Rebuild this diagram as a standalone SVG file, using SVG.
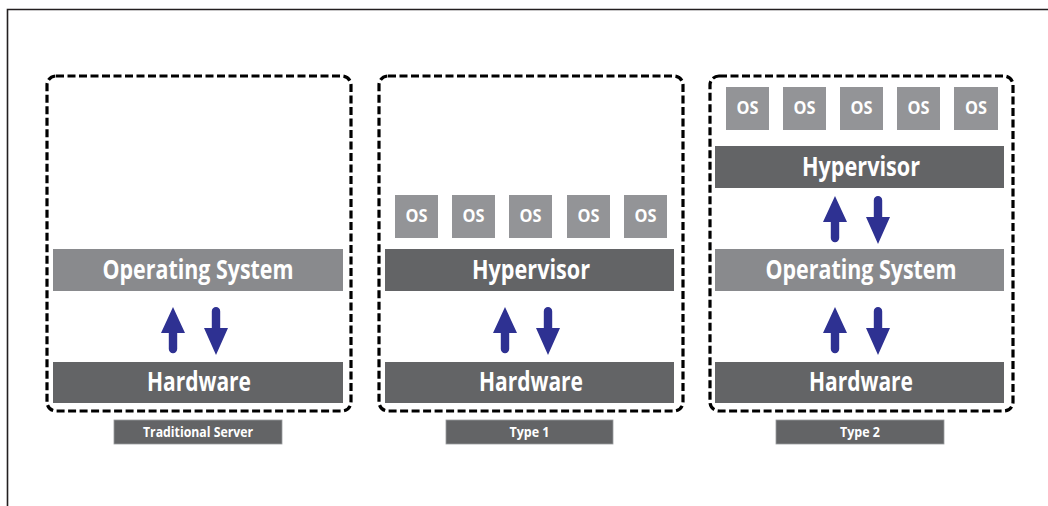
<svg xmlns="http://www.w3.org/2000/svg" xmlns:xlink="http://www.w3.org/1999/xlink" width="1048" height="506" viewBox="0 0 1048 506">
  <style>
    .frame { fill: none; stroke: #231f20; stroke-width: 1.6; }
    .panel { fill: none; stroke: #000; stroke-width: 3.2; stroke-dasharray: 8 3.5; }
    .light { fill: #898a8d; }
    .dark { fill: #636466; }
    .os { fill: #939497; }
    .tag { fill: #636466; stroke: #9a9b9d; stroke-width: 0.8; }
    .t { font-family: "Open Sans", "Noto Sans", "Liberation Sans", sans-serif; font-weight: bold; fill: #fff; text-anchor: middle; }
    .big { font-size: 26px; }
    .small { font-size: 17px; }
    .lbl { font-size: 14px; }
    .arrow { fill: #2e3192; }
  </style>
  <defs>
    <!-- up arrow, tip at origin -->
    <path id="arrow-up" class="arrow" d="M0,0 L12,26 L4.2,26 L4.2,42 A4.2,4.2 0 0 1 -4.2,42 L-4.2,26 L-12,26 Z"/>
    <!-- down arrow, top of shaft at origin -->
    <path id="arrow-down" class="arrow" d="M-4.2,4.2 A4.2,4.2 0 0 1 4.2,4.2 L4.2,21 L12,21 L0,48 L-12,21 L-4.2,21 Z"/>
  </defs>

  <rect width="1048" height="506" fill="#fff"/>
  <path class="frame" d="M7.5,506 V9.5 H1048"/>

  <!-- Traditional server -->
  <g id="traditional-server">
    <rect class="panel" x="47" y="76" width="304" height="335" rx="9"/>
    <rect class="light" x="53" y="249" width="290" height="42"/>
    <text class="t big" x="198" y="279" textLength="191" lengthAdjust="spacingAndGlyphs">Operating System</text>
    <rect class="dark" x="53" y="362" width="290" height="41"/>
    <text class="t big" x="199" y="391" textLength="104" lengthAdjust="spacingAndGlyphs">Hardware</text>
    <rect class="tag" x="114" y="420" width="168" height="24"/>
    <text class="t lbl" x="198" y="437" textLength="110" lengthAdjust="spacingAndGlyphs">Traditional Server</text>
  </g>

  <!-- Type 1 hypervisor -->
  <g id="type-1">
    <rect class="panel" x="379" y="76" width="304" height="335" rx="9"/>
    <g id="type-1-guests">
      <rect class="os" x="395" y="195" width="43" height="43"/>
      <text class="t small" x="416.5" y="222" textLength="22" lengthAdjust="spacingAndGlyphs">OS</text>
      <rect class="os" x="452" y="195" width="43" height="43"/>
      <text class="t small" x="473.5" y="222" textLength="22" lengthAdjust="spacingAndGlyphs">OS</text>
      <rect class="os" x="509" y="195" width="43" height="43"/>
      <text class="t small" x="530.5" y="222" textLength="22" lengthAdjust="spacingAndGlyphs">OS</text>
      <rect class="os" x="567" y="195" width="43" height="43"/>
      <text class="t small" x="588.5" y="222" textLength="22" lengthAdjust="spacingAndGlyphs">OS</text>
      <rect class="os" x="624" y="195" width="43" height="43"/>
      <text class="t small" x="645.5" y="222" textLength="22" lengthAdjust="spacingAndGlyphs">OS</text>
    </g>
    <rect class="dark" x="385" y="249" width="289" height="42"/>
    <text class="t big" x="531" y="279" textLength="118" lengthAdjust="spacingAndGlyphs">Hypervisor</text>
    <rect class="dark" x="385" y="362" width="289" height="41"/>
    <text class="t big" x="531" y="391" textLength="104" lengthAdjust="spacingAndGlyphs">Hardware</text>
    <rect class="tag" x="446" y="420" width="167" height="24"/>
    <text class="t lbl" x="529.5" y="437" textLength="40" lengthAdjust="spacingAndGlyphs">Type 1</text>
  </g>

  <!-- Type 2 hypervisor -->
  <g id="type-2">
    <rect class="panel" x="710" y="76" width="303" height="335" rx="9"/>
    <g id="type-2-guests">
      <rect class="os" x="726" y="87" width="43" height="43"/>
      <text class="t small" x="747.5" y="114" textLength="22" lengthAdjust="spacingAndGlyphs">OS</text>
      <rect class="os" x="783" y="87" width="43" height="43"/>
      <text class="t small" x="804.5" y="114" textLength="22" lengthAdjust="spacingAndGlyphs">OS</text>
      <rect class="os" x="840" y="87" width="43" height="43"/>
      <text class="t small" x="861.5" y="114" textLength="22" lengthAdjust="spacingAndGlyphs">OS</text>
      <rect class="os" x="897" y="87" width="43" height="43"/>
      <text class="t small" x="918.5" y="114" textLength="22" lengthAdjust="spacingAndGlyphs">OS</text>
      <rect class="os" x="954" y="87" width="44" height="43"/>
      <text class="t small" x="976" y="114" textLength="22" lengthAdjust="spacingAndGlyphs">OS</text>
    </g>
    <rect class="dark" x="715" y="146" width="289" height="42"/>
    <text class="t big" x="861" y="176" textLength="118" lengthAdjust="spacingAndGlyphs">Hypervisor</text>
    <rect class="light" x="715" y="249" width="289" height="42"/>
    <text class="t big" x="861" y="279" textLength="191" lengthAdjust="spacingAndGlyphs">Operating System</text>
    <rect class="dark" x="715" y="362" width="289" height="41"/>
    <text class="t big" x="861" y="391" textLength="104" lengthAdjust="spacingAndGlyphs">Hardware</text>
    <rect class="tag" x="776" y="420" width="168" height="24"/>
    <text class="t lbl" x="860" y="437" textLength="40" lengthAdjust="spacingAndGlyphs">Type 2</text>
  </g>

  <!-- two-way arrows between layers -->
  <g id="connectors">
    <use xlink:href="#arrow-up" x="173" y="307"/>
    <use xlink:href="#arrow-down" x="216" y="307"/>
    <use xlink:href="#arrow-up" x="505" y="307"/>
    <use xlink:href="#arrow-down" x="548" y="307"/>
    <use xlink:href="#arrow-up" x="835" y="196"/>
    <use xlink:href="#arrow-down" x="878" y="196"/>
    <use xlink:href="#arrow-up" x="835" y="307"/>
    <use xlink:href="#arrow-down" x="878" y="307"/>
  </g>
</svg>
